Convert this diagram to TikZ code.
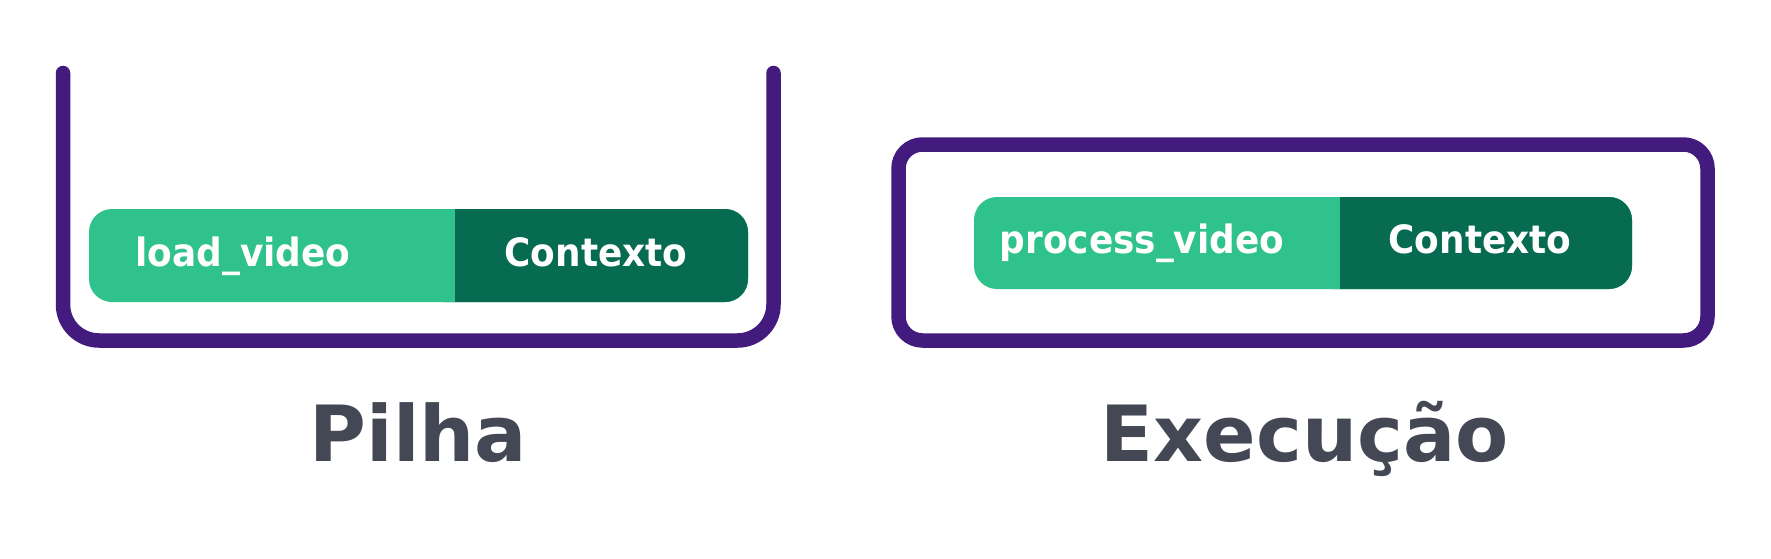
\documentclass[tikz,border=0pt]{standalone}
\usepackage{fontspec}
\setmainfont{DejaVu Sans}
\newfontfamily\condfont{DejaVu Sans}[FakeStretch=0.92]
\definecolor{purp}{HTML}{431A7D}
\definecolor{lgreen}{HTML}{30C28C}
\definecolor{dgreen}{HTML}{066B51}
\definecolor{tgray}{HTML}{434854}
\tikzset{
  frame/.style={draw=purp, line width=14.5pt, line cap=round, line join=round},
  lbl/.style={text=white, anchor=base, inner sep=0pt, font=\condfont\bfseries\fontsize{39}{41}\selectfont},
  ttl/.style={text=tgray, anchor=base, inner sep=0pt, font=\bfseries\fontsize{77.5}{80}\selectfont},
}
\begin{document}
\begin{tikzpicture}[x=1pt, y=-1pt]
\useasboundingbox (0,0) rectangle (1771,559);
% Pilha container
\draw[frame, rounded corners=36pt] (63,73) -- (63,340.5) -- (773.5,340.5) -- (773.5,73);
% frame 1
\fill[lgreen, rounded corners=23pt] (89,209) rectangle (748,302);
\fill[dgreen, rounded corners=23pt] (420,209) rectangle (748,302);
\fill[dgreen] (455,209) rectangle (480,302);
\fill[lgreen] (420,209) rectangle (455,302);
\node[lbl] (f1name) at (243,266) {load\_video};
\node[lbl] (f1ctx) at (596,266) {Contexto};
% Execucao box
\draw[frame, rounded corners=24pt] (898.5,144.5) rectangle (1707.5,340.5);
% frame 2
\fill[lgreen, rounded corners=23pt] (974,197) rectangle (1632,289);
\fill[dgreen, rounded corners=23pt] (1310,197) rectangle (1632,289);
\fill[dgreen] (1340,197) rectangle (1370,289);
\fill[lgreen] (1310,197) rectangle (1340,289);
\node[lbl] (f2name) at (1142,253) {process\_video};
\node[lbl] (f2ctx) at (1480,253) {Contexto};
% titles
\node[ttl] (pilha) at (418.5,461) {Pilha};
\node[ttl] (exec) at (1305,461) {Execução};
\end{tikzpicture}
\end{document}
